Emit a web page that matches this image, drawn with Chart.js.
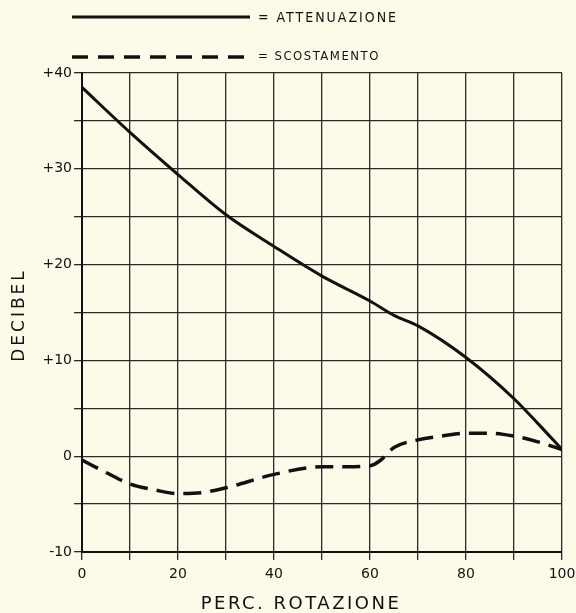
<!DOCTYPE html>
<html lang="it">
<head>
    <meta charset="UTF-8">
    <title>Attenuazione / Scostamento</title>
    <script src="https://cdn.jsdelivr.net/npm/chart.js"></script>
    <style>
        body {
            margin: 0;
            padding: 0;
            background-color: #fdfaea;
        }
        #wrap {
            width: 576px;
            height: 613px;
        }
    </style>
</head>
<body>
<div id="wrap">
    <canvas id="graf" width="576" height="613"></canvas>
</div>
<script>
    // valori
    const attenX = [0, 10, 20, 30, 40, 50, 60, 65, 70, 80, 90, 95, 100];
    const attenDb = [38.5, 33.8, 29.4, 25.2, 21.9, 18.8, 16.2, 14.7, 13.6, 10.3, 6.0, 3.4, 0.7];

    const scostX = [0, 5, 10, 15, 20, 25, 30, 40, 50, 55, 60, 62, 65, 70, 75, 80, 85, 90, 95, 100];
    const scostDb = [-0.4, -1.7, -2.9, -3.5, -3.9, -3.8, -3.3, -1.9, -1.1, -1.1, -1.0, -0.5, 0.9, 1.7, 2.1, 2.4, 2.4, 2.1, 1.5, 0.7];

    const xLabels = [0, 20, 40, 60, 80, 100];
    const yLabels = [-10, 0, 10, 20, 30, 40];

    const ink = "#111";

    function toPoints(xs, ys) {
        return xs.map((x, i) => ({ x: x, y: ys[i] }));
    }

    // legenda e titoli degli assi
    const extras = {
        id: "extras",
        afterDraw(chart) {
            const ctx = chart.ctx;
            ctx.save();
            ctx.strokeStyle = ink;
            ctx.fillStyle = ink;

            ctx.lineWidth = 3;
            ctx.beginPath();
            ctx.moveTo(72, 17);
            ctx.lineTo(250, 17);
            ctx.stroke();

            ctx.lineWidth = 3.5;
            ctx.setLineDash([16, 10]);
            ctx.beginPath();
            ctx.moveTo(72, 57);
            ctx.lineTo(250, 57);
            ctx.stroke();
            ctx.setLineDash([]);

            ctx.textBaseline = "middle";
            ctx.textAlign = "left";
            ctx.font = "14px 'DejaVu Sans Condensed', 'DejaVu Sans', sans-serif";
            ctx.letterSpacing = "2px";
            ctx.fillText("= ATTENUAZIONE", 258, 18);
            ctx.font = "13px 'DejaVu Sans Condensed', 'DejaVu Sans', sans-serif";
            ctx.letterSpacing = "1.5px";
            ctx.fillText("= SCOSTAMENTO", 258, 57);

            ctx.textAlign = "center";
            ctx.font = "18px 'DejaVu Sans', sans-serif";
            ctx.letterSpacing = "2.5px";
            ctx.fillText("PERC. ROTAZIONE", 301, 604);

            ctx.translate(20, 315);
            ctx.rotate(-Math.PI / 2);
            ctx.font = "17px 'DejaVu Sans', sans-serif";
            ctx.letterSpacing = "3px";
            ctx.fillText("DECIBEL", 0, 0);
            ctx.restore();
        }
    };

    new Chart(document.getElementById("graf"), {
        type: "line",
        data: {
            datasets: [
                {
                    label: "ATTENUAZIONE",
                    data: toPoints(attenX, attenDb),
                    borderColor: ink,
                    borderWidth: 3,
                    pointRadius: 0,
                    cubicInterpolationMode: "monotone",
                    fill: false
                },
                {
                    label: "SCOSTAMENTO",
                    data: toPoints(scostX, scostDb),
                    borderColor: ink,
                    borderWidth: 3.5,
                    borderDash: [18, 9],
                    pointRadius: 0,
                    cubicInterpolationMode: "monotone",
                    fill: false
                }
            ]
        },
        options: {
            responsive: false,
            animation: false,
            devicePixelRatio: 1,
            layout: { padding: { top: 73, right: 14, left: 0, bottom: 0 } },
            plugins: {
                legend: { display: false },
                tooltip: { enabled: false }
            },
            scales: {
                x: {
                    type: "linear",
                    min: 0,
                    max: 100,
                    afterFit: s => { s.height = 61; s.paddingLeft = 0; s.paddingRight = 0; },
                    ticks: {
                        stepSize: 10,
                        padding: 6,
                        color: ink,
                        font: { family: "'DejaVu Sans', sans-serif", size: 14 },
                        callback: v => xLabels.includes(v) ? String(v) : ""
                    },
                    grid: { color: "#2a2a2a", lineWidth: 1.3, tickLength: 8 },
                    border: { color: ink, width: 2 }
                },
                y: {
                    min: -10,
                    max: 40,
                    afterFit: s => { s.width = 82; s.paddingTop = 0; s.paddingBottom = 0; },
                    ticks: {
                        stepSize: 5,
                        padding: 2,
                        color: ink,
                        font: { family: "'DejaVu Sans', sans-serif", size: 14 },
                        callback: v => yLabels.includes(v) ? (v > 0 ? "+" + v : String(v)) : ""
                    },
                    grid: { color: "#2a2a2a", lineWidth: 1.3, tickLength: 8 },
                    border: { color: ink, width: 2 }
                }
            }
        },
        plugins: [extras]
    });
</script>
</body>
</html>
